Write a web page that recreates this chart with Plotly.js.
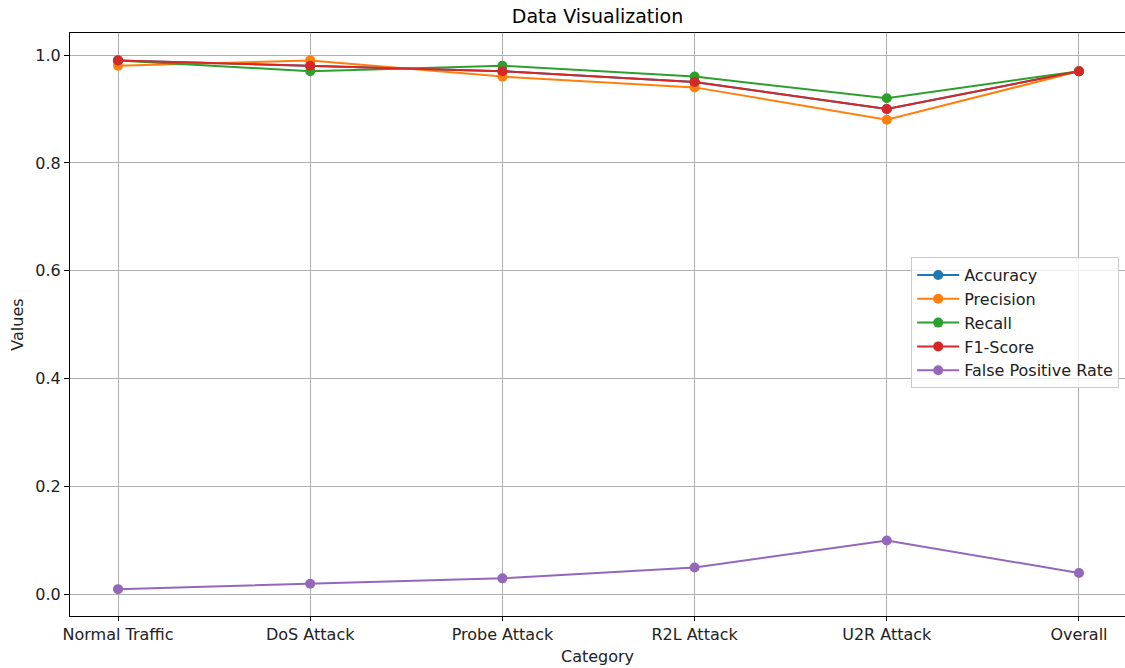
<!DOCTYPE html>
<html><head><meta charset="utf-8">
<script src="https://cdn.plot.ly/plotly-3.0.1.min.js"></script>
<style>html,body{margin:0;padding:0;background:#fff}#c{width:1125px;height:668px}</style>
</head><body><div id="c"></div>
<script>
const categories = ["Normal Traffic","DoS Attack","Probe Attack","R2L Attack","U2R Attack","Overall"];
const accuracy  = [0.99,0.98,0.97,0.95,0.90,0.97];
const precision = [0.98,0.99,0.96,0.94,0.88,0.97];
const recall    = [0.99,0.97,0.98,0.96,0.92,0.97];
const f1score   = [0.99,0.98,0.97,0.95,0.90,0.97];
const fpr       = [0.01,0.02,0.03,0.05,0.10,0.04];
const seriesNames = ["Accuracy","Precision","Recall","F1-Score","False Positive Rate"];
const seriesValues = [accuracy,precision,recall,f1score,fpr];
const colors = ["#1f77b4","#ff7f0e","#2ca02c","#d62728","#9467bd"];

const traces = seriesValues.map((v,i)=>({
  x: categories.map((c,j)=>j), y: v, name: seriesNames[i], type:"scatter", mode:"lines+markers",
  line:{color:colors[i], width:2}, marker:{color:colors[i], size:10}
}));
const layout = {
  width:1125, height:668, paper_bgcolor:"#fff", plot_bgcolor:"#fff",
  margin:{l:70,r:0,t:33,b:52},
  font:{family:"DejaVu Sans", size:16, color:"#222"},
  title:{text:"Data Visualization", font:{size:19,color:"#000"}, x:0.5, xref:"paper", y:0.976, yanchor:"middle"},
  xaxis:{range:[-0.25,5.2395], tickmode:"array", tickvals:categories.map((c,j)=>j), ticktext:categories,
    showgrid:true, gridcolor:"#b0b0b0", gridwidth:1, zeroline:false, showline:true, mirror:true, linecolor:"#000", linewidth:1,
    ticks:"outside", ticklen:4, tickcolor:"#000", tickfont:{size:16,color:"#222"},
    title:{text:"Category", font:{size:16,color:"#222"}, standoff:7}},
  yaxis:{range:[-0.0398,1.0408], tickvals:[0,0.2,0.4,0.6,0.8,1.0], ticktext:["0.0","0.2","0.4","0.6","0.8","1.0"],
    showgrid:true, gridcolor:"#b0b0b0", gridwidth:1, zeroline:false, showline:true, mirror:false, linecolor:"#000", linewidth:1,
    ticks:"outside", ticklen:5, tickcolor:"#000", tickfont:{size:16,color:"#222"},
    title:{text:"Values", font:{size:16,color:"#222"}, standoff:7}},
  legend:{x:0.9945, xanchor:"right", y:0.6156, yanchor:"top", bgcolor:"rgba(255,255,255,0.8)", bordercolor:"#ccc", borderwidth:1,
    font:{size:16,color:"#222"}, itemwidth:42, tracegroupgap:0},
  showlegend:true
};
Plotly.newPlot("c", traces, layout, {displayModeBar:false, staticPlot:true});
</script></body></html>
